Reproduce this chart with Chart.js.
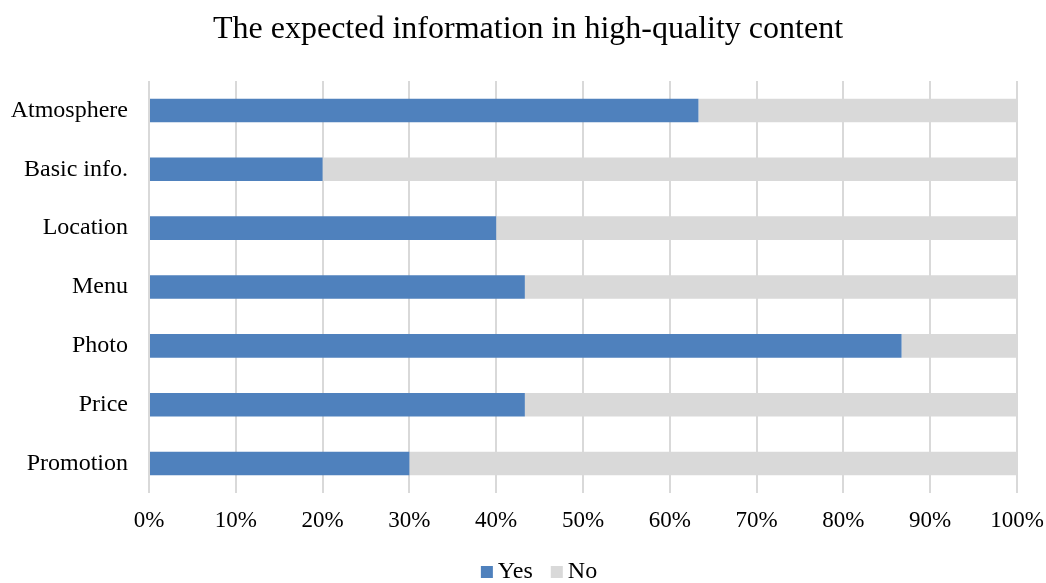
<!DOCTYPE html>
<html>
<head>
<meta charset="utf-8">
<script src="https://cdn.jsdelivr.net/npm/chart.js@4/dist/chart.umd.min.js"></script>
<style>
  html, body { margin: 0; padding: 0; background: #fff; }
  #wrap { width: 1046px; height: 583px; }
</style>
</head>
<body>
<div id="wrap"><canvas id="chart" width="1046" height="583"></canvas></div>
<script>
// Share of respondents (%) expecting each kind of information
const categories = ['Atmosphere', 'Basic info.', 'Location', 'Menu', 'Photo', 'Price', 'Promotion'];
const yesValues = [63.3, 20, 40, 43.3, 86.7, 43.3, 30];
const noValues  = [36.7, 80, 60, 56.7, 13.3, 56.7, 70];
const xTicks = [0, 10, 20, 30, 40, 50, 60, 70, 80, 90, 100];

const SERIF = "'Liberation Serif', 'Times New Roman', serif";

// Legend drawn under the axis: small square swatch followed by the series name
const bottomLegend = {
  id: 'bottomLegend',
  afterDraw(chart) {
    const ctx = chart.ctx;
    const box = 12, gapText = 5, gapItem = 18;
    const y = 572;
    ctx.save();
    ctx.font = '24px ' + SERIF;
    ctx.textBaseline = 'middle';
    ctx.textAlign = 'left';
    const items = chart.data.datasets.map(ds => ({
      text: ds.label, color: ds.backgroundColor, w: ctx.measureText(ds.label).width
    }));
    const total = items.reduce((s, it) => s + box + gapText + it.w, 0) + gapItem * (items.length - 1);
    let x = chart.width / 2 + 16 - total / 2;
    items.forEach(it => {
      ctx.fillStyle = it.color;
      ctx.fillRect(x, y - box / 2, box, box);
      x += box + gapText;
      ctx.fillStyle = '#000';
      ctx.fillText(it.text, x, y);
      x += it.w + gapItem;
    });
    ctx.restore();
  }
};

new Chart(document.getElementById('chart'), {
  type: 'bar',
  data: {
    labels: categories,
    datasets: [
      { label: 'Yes', data: yesValues, backgroundColor: '#4f81bd', borderWidth: 0 },
      { label: 'No',  data: noValues,  backgroundColor: '#d9d9d9', borderWidth: 0 }
    ]
  },
  plugins: [bottomLegend],
  options: {
    indexAxis: 'y',
    responsive: false,
    animation: false,
    devicePixelRatio: 1,
    layout: { padding: { left: 10, right: 0, top: 0, bottom: 32 } },
    datasets: { bar: { categoryPercentage: 1, barPercentage: 0.4 } },
    scales: {
      x: {
        stacked: true,
        min: 0,
        max: 100,
        afterBuildTicks: (scale) => { scale.ticks = xTicks.map(v => ({ value: v })); },
        afterFit: (scale) => { scale.height = 58; scale.paddingRight = 29; },
        ticks: {
          padding: 14,
          color: '#000',
          font: { family: SERIF, size: 23 },
          callback: (v) => v + '%'
        },
        grid: { color: '#d9d9d9', lineWidth: 2, drawTicks: false },
        border: { display: false }
      },
      y: {
        stacked: true,
        afterFit: (scale) => { scale.width = 139; },
        ticks: {
          padding: 21,
          color: '#000',
          font: { family: SERIF, size: 24 }
        },
        grid: { display: false, drawTicks: false },
        border: { display: false }
      }
    },
    plugins: {
      title: {
        display: true,
        text: 'The expected information in high-quality content',
        color: '#000',
        font: { family: SERIF, size: 32, weight: 'normal' },
        padding: { top: 10, bottom: 32.6 }
      },
      legend: { display: false },
      tooltip: { enabled: false }
    }
  }
});
</script>
</body>
</html>
